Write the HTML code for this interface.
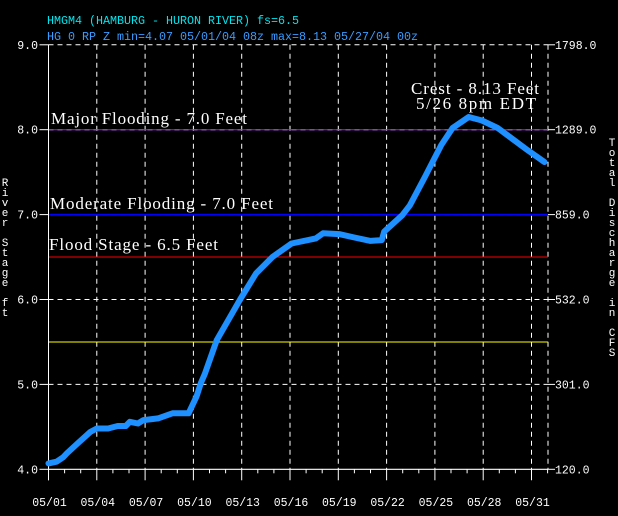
<!DOCTYPE html>
<html><head><meta charset="utf-8"><style>
html,body{margin:0;padding:0;background:#000;width:618px;height:516px;overflow:hidden}
svg{display:block}
text{font-family:"Liberation Mono",monospace}
.serif{font-family:"Liberation Serif",serif;fill:#fff;font-size:17px}
</style></head><body>
<svg id="chart" width="618" height="516" viewBox="0 0 618 516">
<rect width="618" height="516" fill="#000"/>
<text x="47" y="24" fill="#00e5ee" font-size="11.7" textLength="252">HMGM4 (HAMBURG - HURON RIVER) fs=6.5</text>
<text x="47" y="40" fill="#3a9cff" font-size="11.7" textLength="371">HG 0 RP Z min=4.07 05/01/04 08z max=8.13 05/27/04 00z</text>
<g id="grid"></g>
<g id="thresholds"></g>
<g id="axes"></g>
<g id="series"></g>
<text class="serif" x="411" y="94" textLength="128">Crest - 8.13 Feet</text>
<text class="serif" x="416" y="109" textLength="120">5/26 8pm EDT</text>
<text class="serif" x="51" y="124" textLength="196">Major Flooding - 7.0 Feet</text>
<text class="serif" x="50" y="209" textLength="223">Moderate Flooding - 7.0 Feet</text>
<text class="serif" x="49" y="250" textLength="169">Flood Stage - 6.5 Feet</text>
<g id="ylab"></g>
</svg>
<script>
const days = [1,1.5,1.9,2.15,2.9,3.6,4.0,4.7,5.3,5.8,6.05,6.55,6.9,7.8,8.7,9.7,10.2,10.47,10.7,11.45,12.9,13.9,14.9,16.1,17.6,18.05,19.05,20.0,21.0,21.7,21.85,22.96,23.45,24.4,25.4,26.1,27.1,27.9,28.9,29.9,30.75,31.8];
const stage = [4.07,4.09,4.14,4.19,4.32,4.44,4.48,4.48,4.51,4.51,4.56,4.54,4.58,4.60,4.66,4.66,4.86,5.02,5.12,5.52,6.0,6.31,6.50,6.66,6.72,6.78,6.77,6.73,6.69,6.70,6.80,6.99,7.11,7.45,7.82,8.02,8.15,8.11,8.02,7.88,7.76,7.62];
const yTicks = [4,5,6,7,8,9];
const yLabels = ["4.0","5.0","6.0","7.0","8.0","9.0"];
const cfsLabels = ["120.0","301.0","532.0","859.0","1289.0","1798.0"];
const xTickDays = [1,4,7,10,13,16,19,22,25,28,31];
const xLabels = ["05/01","05/04","05/07","05/10","05/13","05/16","05/19","05/22","05/25","05/28","05/31"];
const thrVals = [8.0,7.0,6.5,5.5];
const thrColors = ["#a020f0","#0000ff","#ff0000","#ffff00"];
const thrNames = ["major-flood-line","moderate-flood-line","flood-stage-line","action-stage-line"];

const X0=48.5, PXD=16.1, Y0=469.3, PXF=84.9, XR=548;
const xs = d => X0 + (d-1)*PXD;
const ys = v => Y0 - (v-4)*PXF;
const NS="http://www.w3.org/2000/svg";
function mk(tag, attrs, parent){const e=document.createElementNS(NS,tag);for(const k in attrs)e.setAttribute(k,attrs[k]);parent.appendChild(e);return e;}
const grid=document.getElementById('grid'), axes=document.getElementById('axes'), thr=document.getElementById('thresholds'), ser=document.getElementById('series'), ylab=document.getElementById('ylab');

// horizontal grid
yTicks.forEach((v,i)=>{
  if(v===4) return;
  const l=mk('line',{x1:X0,x2:XR,y1:ys(v),y2:ys(v),stroke:'#fff','stroke-width':1,'stroke-dasharray':'5,4'},grid);
  
  
});
// vertical grid
xTickDays.forEach(d=>{
  if(d===1) return;
  const l=mk('line',{x1:xs(d),x2:xs(d),y1:ys(9),y2:Y0,stroke:'#fff','stroke-width':1,'stroke-dasharray':'5,4'},grid);
  
  
});
const rg=mk('line',{x1:XR,x2:XR,y1:ys(9),y2:Y0,stroke:'#fff','stroke-width':1,'stroke-dasharray':'5,4'},grid);



// thresholds
thrVals.forEach((v,i)=>{
  const l=mk('line',{x1:X0,x2:XR,y1:ys(v),y2:ys(v),stroke:thrColors[i],'stroke-width':i===1?1.5:1},thr);
  
  
});

// axes
const la=mk('line',{x1:X0,x2:X0,y1:ys(9),y2:Y0+11,stroke:'#fff','stroke-width':1},axes);


const ba=mk('line',{x1:X0,x2:XR,y1:Y0,y2:Y0,stroke:'#fff','stroke-width':1.2},axes);


for(let d=1; d<=32; d++){
  const major = xTickDays.indexOf(d)>=0;
  const t=mk('line',{x1:xs(d),x2:xs(d),y1:Y0,y2:Y0+(major?11:4),stroke:'#fff','stroke-width':1},axes);
  
  
}
xTickDays.forEach((d,i)=>{
  const t=mk('text',{x:xs(d)+1,y:506,fill:'#fff','font-size':'11.5','text-anchor':'middle'},axes);
  t.textContent=xLabels[i];
  
  
});
yTicks.forEach((v,i)=>{
  const tl=mk('line',{x1:X0-9,x2:X0,y1:ys(v),y2:ys(v),stroke:'#fff'},axes);
  
  
  const tr=mk('line',{x1:XR,x2:XR+7,y1:ys(v),y2:ys(v),stroke:'#fff'},axes);
  
  
  const a=mk('text',{x:38,y:ys(v)+4,fill:'#fff','font-size':'11.5','text-anchor':'end'},axes);
  a.textContent=yLabels[i];
  
  
  const b=mk('text',{x:555,y:ys(v)+4,fill:'#fff','font-size':'11.5'},axes);
  b.textContent=cfsLabels[i];
  
  
});

// vertical axis titles
function stack(str,x,y0,name){
  const g=mk('text',{fill:'#fff','font-size':'11','text-anchor':'middle'},ylab);
  
  
  [...str].forEach((c,i)=>{const s=mk('tspan',{x:x,y:y0+i*10},g);s.textContent=c===' '?'\u00a0':c;});
}
stack("River Stage ft",5,186,'y-axis-title');
stack("Total Discharge in CFS",612,146,'right-y-axis-title');

// series
const pts=days.map((d,i)=>xs(d).toFixed(1)+','+ys(stage[i]).toFixed(1)).join(' ');
const pl=mk('polyline',{points:pts,fill:'none',stroke:'#1e90ff','stroke-width':6,'stroke-linejoin':'round','stroke-linecap':'round'},ser);


</script>
</body></html>
